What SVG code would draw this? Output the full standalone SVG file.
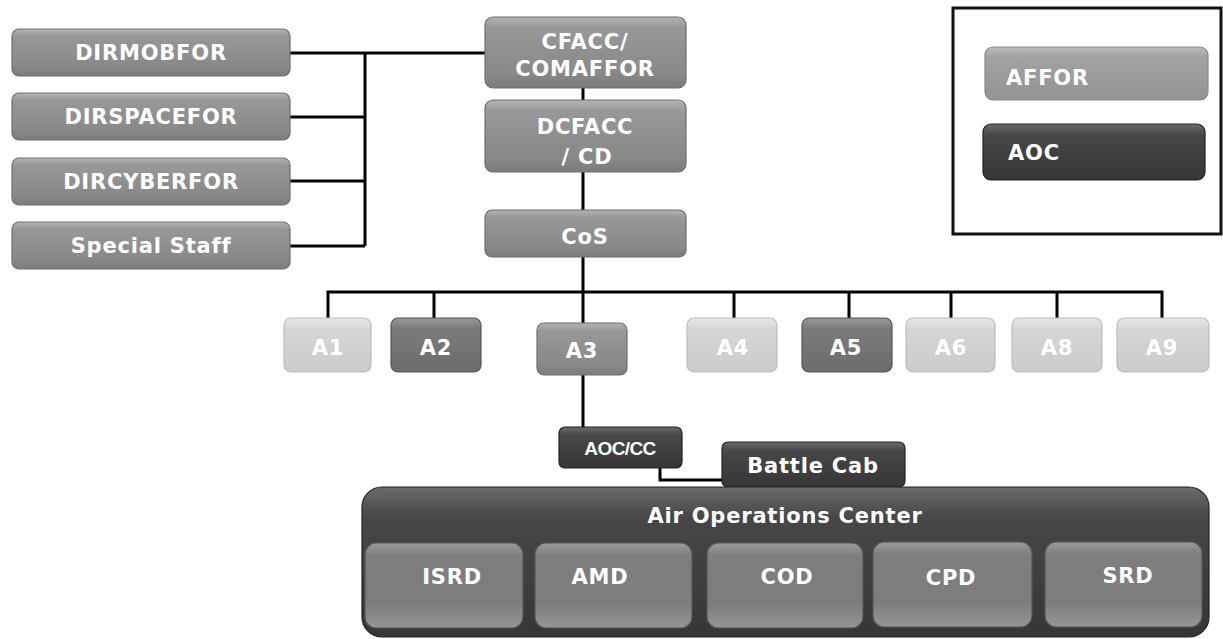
<svg xmlns="http://www.w3.org/2000/svg" width="1223" height="639" viewBox="0 0 1223 639">
  <defs>
    <linearGradient id="gMid" x1="0" y1="0" x2="0" y2="1">
      <stop offset="0" stop-color="#b4b4b4"/>
      <stop offset="0.15" stop-color="#989898"/>
      <stop offset="0.8" stop-color="#888888"/>
      <stop offset="1" stop-color="#7c7c7c"/>
    </linearGradient>
    <linearGradient id="gLight" x1="0" y1="0" x2="0" y2="1">
      <stop offset="0" stop-color="#e6e6e6"/>
      <stop offset="0.2" stop-color="#d6d6d6"/>
      <stop offset="1" stop-color="#cbcbcb"/>
    </linearGradient>
    <linearGradient id="gDeep" x1="0" y1="0" x2="0" y2="1">
      <stop offset="0" stop-color="#979797"/>
      <stop offset="0.2" stop-color="#7b7b7b"/>
      <stop offset="1" stop-color="#6c6c6c"/>
    </linearGradient>
    <linearGradient id="gDark" x1="0" y1="0" x2="0" y2="1">
      <stop offset="0" stop-color="#6a6a6a"/>
      <stop offset="0.2" stop-color="#474747"/>
      <stop offset="1" stop-color="#363636"/>
    </linearGradient>
    <linearGradient id="gSub" x1="0" y1="0" x2="0" y2="1">
      <stop offset="0" stop-color="#9a9a9a"/>
      <stop offset="0.15" stop-color="#7e7e7e"/>
      <stop offset="0.7" stop-color="#7c7c7c"/>
      <stop offset="1" stop-color="#959595"/>
    </linearGradient>
    <linearGradient id="gLegendA" x1="0" y1="0" x2="0" y2="1">
      <stop offset="0" stop-color="#bdbdbd"/>
      <stop offset="0.2" stop-color="#a2a2a2"/>
      <stop offset="1" stop-color="#939393"/>
    </linearGradient>
  </defs>
  <style>
    .box { stroke-width: 1.2; }
    .mid { fill: url(#gMid); stroke: #6e6e6e; }
    .light { fill: url(#gLight); stroke: #bcbcbc; }
    .deep { fill: url(#gDeep); stroke: #555; }
    .dark { fill: url(#gDark); stroke: #222; }
    .sub { fill: url(#gSub); stroke: #555; }
    .lbl { font-family: "DejaVu Sans", Verdana, sans-serif; font-weight: bold; fill: #ffffff; text-anchor: middle; dominant-baseline: central; font-size: 21px; letter-spacing: 0.8px; }
    .lblL { text-anchor: start; }
    .small { font-family: "Liberation Sans", Arial, sans-serif; font-size: 19px; letter-spacing: -0.6px; }
    .wire { stroke: #000; stroke-width: 3; fill: none; }
  </style>
  <rect width="1223" height="639" fill="#ffffff"/>

  <!-- connectors -->
  <g id="connectors">
    <polyline class="wire" points="290,53 485,53"/>
    <polyline class="wire" points="365,53 365,246"/>
    <polyline class="wire" points="290,117 365,117"/>
    <polyline class="wire" points="290,181 365,181"/>
    <polyline class="wire" points="290,246 365,246"/>
    <polyline class="wire" points="583,88 583,100"/>
    <polyline class="wire" points="583,172 583,210"/>
    <polyline class="wire" points="583,257 583,323"/>
    <polyline class="wire" points="328,318 328,292 1162,292 1162,318"/>
    <polyline class="wire" points="434,292 434,318"/>
    <polyline class="wire" points="734,292 734,318"/>
    <polyline class="wire" points="849,292 849,318"/>
    <polyline class="wire" points="951,292 951,318"/>
    <polyline class="wire" points="1057,292 1057,318"/>
    <polyline class="wire" points="583,375 583,427"/>
    <polyline class="wire" points="660,468 660,480 722,480"/>
  </g>

  <!-- staff directors -->
  <g id="dirmobfor"><rect class="box mid" x="12" y="29" width="278" height="47" rx="7"/><text class="lbl" x="151" y="53">DIRMOBFOR</text></g>
  <g id="dirspacefor"><rect class="box mid" x="12" y="93" width="278" height="47" rx="7"/><text class="lbl" x="151" y="117">DIRSPACEFOR</text></g>
  <g id="dircyberfor"><rect class="box mid" x="12" y="158" width="278" height="47" rx="7"/><text class="lbl" x="151" y="182">DIRCYBERFOR</text></g>
  <g id="special-staff"><rect class="box mid" x="12" y="222" width="278" height="47" rx="7"/><text class="lbl" x="151" y="246">Special Staff</text></g>

  <!-- command chain -->
  <g id="cfacc"><rect class="box mid" x="485" y="17" width="201" height="71" rx="8"/><text class="lbl" x="585" y="42">CFACC/</text><text class="lbl" x="585" y="69">COMAFFOR</text></g>
  <g id="dcfacc"><rect class="box mid" x="485" y="100" width="201" height="72" rx="8"/><text class="lbl" x="585" y="127">DCFACC</text><text class="lbl" x="587" y="157">/ CD</text></g>
  <g id="cos"><rect class="box mid" x="485" y="210" width="201" height="47" rx="7"/><text class="lbl" x="585" y="237">CoS</text></g>

  <!-- A-staff -->
  <g id="a1"><rect class="box light" x="284" y="318" width="87" height="54" rx="7"/><text class="lbl" x="328" y="348">A1</text></g>
  <g id="a2"><rect class="box deep" x="391" y="318" width="90" height="54" rx="7"/><text class="lbl" x="436" y="348">A2</text></g>
  <g id="a3"><rect class="box mid" x="537" y="323" width="90" height="52" rx="7"/><text class="lbl" x="582" y="351">A3</text></g>
  <g id="a4"><rect class="box light" x="687" y="318" width="90" height="54" rx="7"/><text class="lbl" x="733" y="348">A4</text></g>
  <g id="a5"><rect class="box deep" x="802" y="318" width="90" height="54" rx="7"/><text class="lbl" x="846" y="348">A5</text></g>
  <g id="a6"><rect class="box light" x="906" y="318" width="89" height="54" rx="7"/><text class="lbl" x="951" y="348">A6</text></g>
  <g id="a8"><rect class="box light" x="1012" y="318" width="90" height="54" rx="7"/><text class="lbl" x="1057" y="348">A8</text></g>
  <g id="a9"><rect class="box light" x="1117" y="318" width="92" height="54" rx="7"/><text class="lbl" x="1162" y="348">A9</text></g>

  <!-- AOC commander and battle cab -->
  <g id="aoc-cc"><rect class="box dark" x="559" y="427" width="123" height="41" rx="6"/><text class="lbl small" x="620" y="448">AOC/CC</text></g>
  <g id="battle-cab"><rect class="box dark" x="722" y="442" width="183" height="45" rx="6"/><text class="lbl" x="813" y="466">Battle Cab</text></g>

  <!-- Air Operations Center and its divisions -->
  <g id="air-operations-center">
    <rect class="box dark" x="362" y="487" width="847" height="150" rx="20"/>
    <text class="lbl" x="785" y="516">Air Operations Center</text>
  </g>
  <g id="isrd"><rect class="box sub" x="365" y="543" width="158" height="85" rx="11"/><text class="lbl" x="452" y="577">ISRD</text></g>
  <g id="amd"><rect class="box sub" x="535" y="543" width="157" height="85" rx="11"/><text class="lbl" x="600" y="577">AMD</text></g>
  <g id="cod"><rect class="box sub" x="707" y="543" width="156" height="85" rx="11"/><text class="lbl" x="787" y="577">COD</text></g>
  <g id="cpd"><rect class="box sub" x="873" y="542" width="159" height="85" rx="11"/><text class="lbl" x="951" y="578">CPD</text></g>
  <g id="srd"><rect class="box sub" x="1045" y="542" width="157" height="85" rx="11"/><text class="lbl" x="1128" y="576">SRD</text></g>

  <!-- legend -->
  <g id="legend">
    <rect x="953" y="8" width="268" height="226" fill="#ffffff" stroke="#111" stroke-width="3"/>
    <g id="legend-affor"><rect class="box" x="985" y="47" width="223" height="53" rx="8" fill="url(#gLegendA)" stroke="#8a8a8a"/><text class="lbl lblL" x="1006" y="78">AFFOR</text></g>
    <g id="legend-aoc"><rect class="box dark" x="983" y="124" width="222" height="56" rx="8"/><text class="lbl lblL" x="1008" y="153">AOC</text></g>
  </g>
</svg>
